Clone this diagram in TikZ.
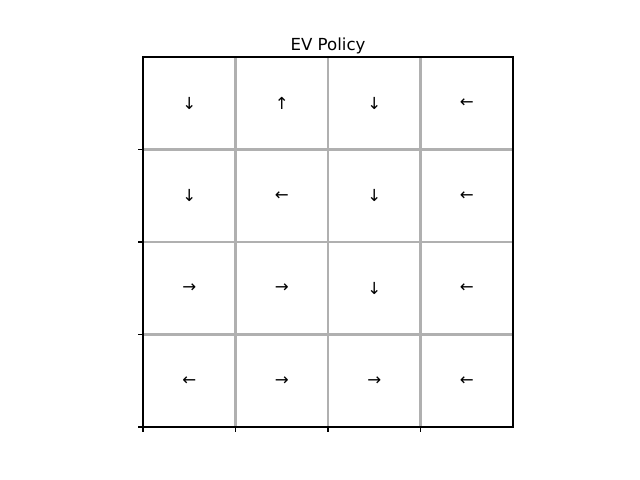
\documentclass[tikz,border=0pt]{standalone}
\usepackage{fontspec}
\setmainfont{DejaVu Sans}
\usetikzlibrary{positioning}
\definecolor{gridgray}{RGB}{176, 176, 176}

\begin{document}
\begin{tikzpicture}[x=0.01in, y=0.01in, every node/.style={font=\fontsize{12}{14}\selectfont}]
    \useasboundingbox (0, 0) rectangle (640, 480);

    % grid lines between the cells
    \foreach \k in {1, 2, 3} {
        \draw[gridgray, line width=2pt] (143 + 92.5*\k, 53) -- (143 + 92.5*\k, 423);
        \draw[gridgray, line width=2pt] (143, 53 + 92.5*\k) -- (513, 53 + 92.5*\k);
    }

    % frame and ticks
    \draw[black, line width=0.8pt] (143, 53) rectangle (513, 423);
    \foreach \k in {0, 1, 2, 3} {
        \draw[black, line width=0.8pt] (143 + 92.5*\k, 53) -- ++(0, -3.5pt);
        \draw[black, line width=0.8pt] (143, 53 + 92.5*\k) -- ++(-3.5pt, 0);
    }

    % policy arrows, row by row from the top
    \foreach \row/\cells in {0/{↓,↑,↓,←}, 1/{↓,←,↓,←}, 2/{→,→,↓,←}, 3/{←,→,→,←}} {
        \foreach \sym [count=\col from 0] in \cells {
            \node (cell\row\col) at (189.25 + 92.5*\col, 376.75 - 92.5*\row) {\sym};
        }
    }

    \node[above=-1pt] (title) at (328, 423) {EV Policy};
\end{tikzpicture}
\end{document}
